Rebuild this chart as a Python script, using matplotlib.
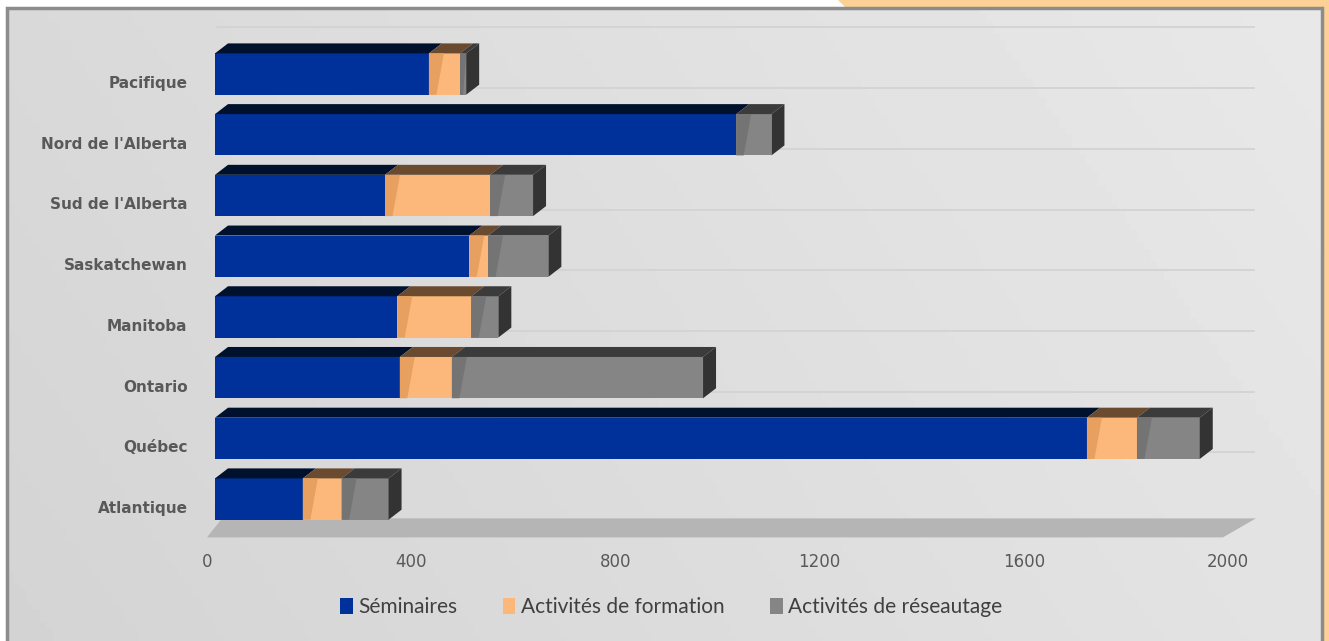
import numpy as np
import matplotlib
matplotlib.use('Agg')
import matplotlib.pyplot as plt
import matplotlib.transforms as mtrans
from matplotlib.patches import Polygon, Rectangle, Patch

# [0] data
regions = ['Atlantique', 'Québec', 'Ontario', 'Manitoba', 'Saskatchewan',
           "Sud de l'Alberta", "Nord de l'Alberta", 'Pacifique']
seminaires = [172, 1708, 362, 357, 498, 333, 1021, 419]
formation = [76, 98, 102, 145, 37, 206, 0, 61]
reseautage = [92, 123, 492, 53, 118, 84, 69, 12]
series_names = ['Séminaires', 'Activités de formation', 'Activités de réseautage']
xticks = [0, 400, 800, 1200, 1600, 2000]

# colours: front, top, left shade
front_cols = ['#00309a', '#fbb87a', '#858585']
top_cols = ['#00112e', '#6b4b30', '#3b3b3b']
shade_cols = ['#00309a', '#e8a060', '#747474']
side_col = '#333333'

W, H = 1329, 641
fig = plt.figure(figsize=(W / 100, H / 100), dpi=100)
fig.patch.set_facecolor('white')

# [1] frame + peach corner
peach = Polygon([(838 / W, 1), (1, 1), (1, 0), (1322 / W, 0), (1322 / W, 633 / H), (846 / W, 633 / H)],
                closed=True, transform=fig.transFigure, facecolor='#fdd096', edgecolor='none')
fig.patches.append(peach)

bg = fig.add_axes([7 / W, 0, (1322 - 7) / W, 633 / H])
gx = np.linspace(0, 1, 200)
gy = np.linspace(0, 1, 100)
GX, GY = np.meshgrid(gx, gy)
grad = 0.83 + 0.06 * GX + 0.02 * GY
bg.imshow(grad, cmap='gray', vmin=0, vmax=1, aspect='auto', extent=[0, 1, 0, 1], origin='lower')
bg.set_xlim(0, 1)
bg.set_ylim(0, 1)
bg.axis('off')
frame = Rectangle((7 / W, -0.01), (1322 - 7) / W, 633 / H + 0.01, transform=fig.transFigure,
                  facecolor='none', edgecolor='#8c8c8c', linewidth=2.5)
fig.patches.append(frame)

# [2] main axes
ax_l, ax_r = 207, 1228
ax_b, ax_t = 537.4, 27.4
ax = fig.add_axes([ax_l / W, (H - ax_b) / H, (ax_r - ax_l) / W, (ax_b - ax_t) / H])
ax.set_facecolor('none')
ax.set_xlim(0, 2000)
ax.set_ylim(-0.5, 7.9)

px_x = (ax_r - ax_l) / 2000.0
px_y = (ax_b - ax_t) / 8.4
DX = 13 / px_x
DY = 10 / px_y
SW = 15 / px_x
BH = 0.68

# back wall gridlines (faint)
for k in range(1, 9):
    ax.plot([20, 2050], [k - 0.1, k - 0.1], color='#d3d3d3', linewidth=1.3, zorder=0.5, clip_on=False)

# floor
floor = Polygon([(0, -0.5), (1990, -0.5), (1990 + 33 / px_x, -0.5 + 19 / px_y), (15 / px_x, -0.5 + 19 / px_y)],
                closed=True, facecolor='#b5b5b5', edgecolor='none', zorder=1, clip_on=False)
ax.add_patch(floor)

# bars sit a little behind the front plane
shift = mtrans.offset_copy(ax.transData, fig=fig, x=8, y=8, units='dots')

data = [seminaires, formation, reseautage]
for i in range(len(regions)):
    left = 0
    last_right = None
    for s in range(3):
        w = data[s][i]
        if w <= 0:
            continue
        ax.barh(i, w, left=left, height=BH, color=front_cols[s], edgecolor='none',
                transform=shift, zorder=3)
        yt = i + BH / 2
        yb = i - BH / 2
        top = Polygon([(left, yt), (left + w, yt), (left + w + DX, yt + DY), (left + DX, yt + DY)],
                      closed=True, facecolor=top_cols[s], edgecolor='none', transform=shift, zorder=3)
        ax.add_patch(top)
        if s > 0:
            sw = min(SW, w)
            shade = Polygon([(left, yb), (left, yt), (left + sw, yt), (left + sw * 0.5, yb)],
                            closed=True, facecolor=shade_cols[s], edgecolor='none', transform=shift, zorder=3.5)
            ax.add_patch(shade)
        left += w
        last_right = left
    side = Polygon([(last_right, yb), (last_right, yt), (last_right + DX, yt + DY), (last_right + DX, yb + DY)],
                   closed=True, facecolor=side_col, edgecolor='none', transform=shift, zorder=3)
    ax.add_patch(side)

# [3] axes styling
for sp in ax.spines.values():
    sp.set_visible(False)
ax.set_yticks(range(len(regions)))
ax.set_yticklabels(regions, fontdict={'family': 'DejaVu Sans', 'weight': 'bold', 'size': 11}, color='#595959')
ax.set_xticks(xticks)
ax.set_xticklabels([str(v) for v in xticks], fontdict={'family': 'Liberation Sans Narrow', 'size': 12}, color='#595959')
ax.tick_params(axis='y', length=0, pad=14)
ax.tick_params(axis='x', length=0, pad=11)

handles = [Patch(facecolor=c, edgecolor='none') for c in front_cols]
fig.legend(handles, series_names, loc='center', bbox_to_anchor=(0.505, 0.053), ncol=3, frameon=False,
           prop={'family': 'Lato', 'size': 15}, labelcolor='#404040', handlelength=0.6, handleheight=0.8,
           handletextpad=0.25, columnspacing=2.2)

fig.savefig('out.png', dpi=100)
